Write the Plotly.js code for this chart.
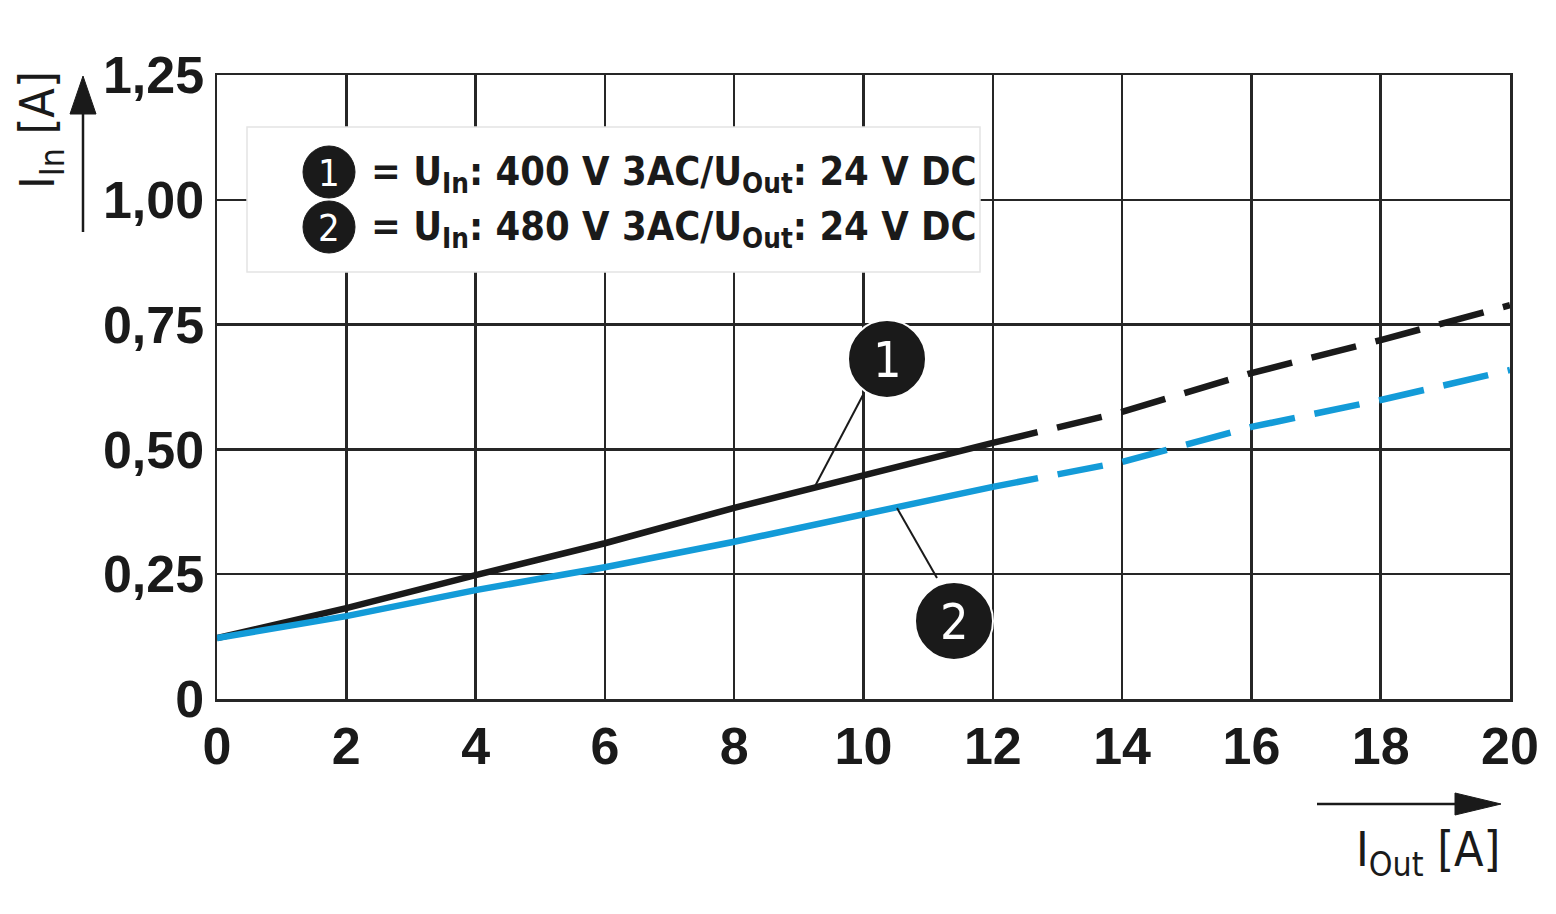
<!DOCTYPE html>
<html>
<head>
<meta charset="utf-8">
<script src="https://cdn.plot.ly/plotly-3.0.1.min.js"></script>
<style>
  html, body { margin: 0; padding: 0; background: #ffffff; }
  #chart { width: 1556px; height: 914px; }
</style>
</head>
<body>
<div id="chart"></div>
<script>
// ---- data ----
const iOutSolid = [0, 2, 4, 6, 8, 10, 12];
const iOutDashed = [12, 14, 16, 18, 20];
const iIn400Solid = [0.122, 0.182, 0.248, 0.312, 0.383, 0.449, 0.513];
const iIn400Dashed = [0.513, 0.575, 0.653, 0.719, 0.789];
const iIn480Solid = [0.122, 0.166, 0.218, 0.264, 0.315, 0.371, 0.425];
const iIn480Dashed = [0.425, 0.475, 0.545, 0.599, 0.659];

const xTickVals = [0, 2, 4, 6, 8, 10, 12, 14, 16, 18, 20];
const xTickText = ['0', '2', '4', '6', '8', '10', '12', '14', '16', '18', '20'];
const yTickVals = [0, 0.25, 0.5, 0.75, 1.0, 1.25];
const yTickText = ['0', '0,25', '0,50', '0,75', '1,00', '1,25'];

const legendLabels = [
  '= U<sub>In</sub>: 400 V 3AC/U<sub>Out</sub>: 24 V DC',
  '= U<sub>In</sub>: 480 V 3AC/U<sub>Out</sub>: 24 V DC'
];
const seriesNumbers = ['1', '2'];

// ---- styling ----
const W = 1556, H = 914;
const M = { l: 217, r: 46, t: 75, b: 215 };
const PW = W - M.l - M.r, PH = H - M.t - M.b;
const px = v => (v - M.l) / PW;       // pixel x -> paper
const py = v => (H - M.b - v) / PH;   // pixel y -> paper

const BLACK = '#1a1a1a';
const BLUE = '#139bd8';
const GRID = '#262626';
const NARROW = '"Liberation Sans Narrow", "Arial Narrow", "DejaVu Sans Condensed", sans-serif';
const SANS = '"Liberation Sans", Arial, Helvetica, sans-serif';

const traces = [
  { x: iOutSolid, y: iIn400Solid, mode: 'lines', line: { color: BLACK, width: 6.5 }, hoverinfo: 'skip' },
  { x: iOutDashed, y: iIn400Dashed, mode: 'lines', line: { color: BLACK, width: 6.5, dash: '46px,20px' }, hoverinfo: 'skip' },
  { x: iOutSolid, y: iIn480Solid, mode: 'lines', line: { color: BLUE, width: 6.5 }, hoverinfo: 'skip' },
  { x: iOutDashed, y: iIn480Dashed, mode: 'lines', line: { color: BLUE, width: 6.5, dash: '46px,20px' }, hoverinfo: 'skip' }
];

function circle(cx, cy, r, lineColor, lineW) {
  return { type: 'circle', xref: 'paper', yref: 'paper', layer: 'above',
    x0: px(cx - r), x1: px(cx + r), y0: py(cy + r), y1: py(cy - r),
    fillcolor: BLACK, line: { color: lineColor, width: lineW } };
}
function seg(x0, y0, x1, y1, w) {
  return { type: 'line', xref: 'paper', yref: 'paper', layer: 'above',
    x0: px(x0), y0: py(y0), x1: px(x1), y1: py(y1), line: { color: BLACK, width: w } };
}
function tri(pts) {
  const d = 'M ' + pts.map(p => px(p[0]) + ',' + py(p[1])).join(' L ') + ' Z';
  return { type: 'path', xref: 'paper', yref: 'paper', layer: 'above', path: d,
    fillcolor: BLACK, line: { color: BLACK, width: 1 } };
}

const shapes = [
  // legend box
  { type: 'rect', xref: 'paper', yref: 'paper', layer: 'above',
    x0: px(247), x1: px(980), y0: py(272), y1: py(127),
    fillcolor: '#ffffff', line: { color: '#e4e4e4', width: 1.5 } },
  circle(329, 172, 26, BLACK, 1),
  circle(329, 227, 26, BLACK, 1),
  // callouts
  seg(863, 395, 813, 490, 2),
  seg(937, 578, 897, 508, 2),
  circle(887, 359, 39, '#ffffff', 2),
  circle(954, 621, 39, '#ffffff', 2),
  // y arrow
  seg(83, 232, 83, 110, 2.5),
  tri([[83, 76], [70, 114], [96, 114]]),
  // x arrow
  seg(1317, 804, 1460, 804, 2.5),
  tri([[1501, 804], [1455, 793], [1455, 815]])
];

const annotations = [];
[172, 227].forEach((cy, i) => {
  annotations.push({ xref: 'paper', yref: 'paper', x: px(329), y: py(cy + 1), xanchor: 'center', yanchor: 'middle',
    text: seriesNumbers[i], showarrow: false, font: { family: NARROW, size: 38, color: '#ffffff' } });
  annotations.push({ xref: 'paper', yref: 'paper', x: px(369), y: py(cy + 2), xanchor: 'left', yanchor: 'middle',
    text: legendLabels[i], showarrow: false, font: { family: NARROW, size: 39.5, color: BLACK, weight: 'bold' } });
});
annotations.push({ xref: 'paper', yref: 'paper', x: px(887), y: py(360), xanchor: 'center', yanchor: 'middle',
  text: seriesNumbers[0], showarrow: false, font: { family: NARROW, size: 50, color: '#ffffff' } });
annotations.push({ xref: 'paper', yref: 'paper', x: px(954), y: py(622), xanchor: 'center', yanchor: 'middle',
  text: seriesNumbers[1], showarrow: false, font: { family: NARROW, size: 50, color: '#ffffff' } });
// axis titles
annotations.push({ xref: 'paper', yref: 'paper', x: px(1428), y: py(852), xanchor: 'center', yanchor: 'middle',
  text: 'I<sub>Out</sub> [A]', showarrow: false, font: { family: NARROW, size: 48, color: BLACK } });
annotations.push({ xref: 'paper', yref: 'paper', x: px(40), y: py(130), xanchor: 'center', yanchor: 'middle',
  text: 'I<sub>In</sub> [A]', textangle: -90, showarrow: false, font: { family: NARROW, size: 48, color: BLACK } });

const axisCommon = {
  showline: true, mirror: true, linecolor: GRID, linewidth: 2.5,
  showgrid: true, gridcolor: GRID, gridwidth: 2.5,
  zeroline: false, ticks: '', fixedrange: true,
  tickfont: { family: SANS, size: 52, color: BLACK, weight: 'bold' }
};

const layout = {
  width: W, height: H,
  margin: M,
  paper_bgcolor: '#ffffff', plot_bgcolor: '#ffffff',
  showlegend: false,
  xaxis: Object.assign({}, axisCommon, { range: [0, 20], tickmode: 'array', tickvals: xTickVals, ticktext: xTickText, ticklabelstandoff: 0 }),
  yaxis: Object.assign({}, axisCommon, { range: [0, 1.25], tickmode: 'array', tickvals: yTickVals, ticktext: yTickText, ticklabelstandoff: 0 }),
  shapes: shapes,
  annotations: annotations
};

Plotly.newPlot('chart', traces, layout, { displayModeBar: false, staticPlot: true });
</script>
</body>
</html>
